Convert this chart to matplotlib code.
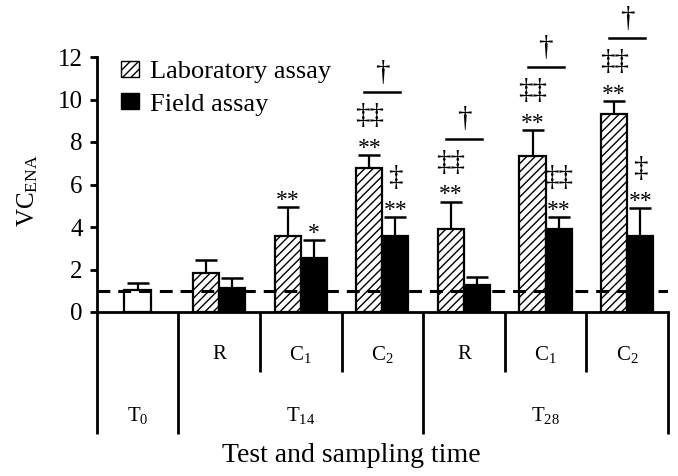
import matplotlib
matplotlib.use("Agg")
import matplotlib.pyplot as plt
from matplotlib.patches import Patch
import numpy as np

plt.rcParams["font.family"] = ["Liberation Serif", "DejaVu Serif"]
plt.rcParams["mathtext.fontset"] = "custom"
plt.rcParams["mathtext.rm"] = "Liberation Serif"
plt.rcParams["mathtext.it"] = "Liberation Serif"
plt.rcParams["hatch.linewidth"] = 1.0

# data
t0_mean = 1.05
t0_sd = 0.3

treatments = ["R", "C$_1$", "C$_2$", "R", "C$_1$", "C$_2$"]
times = ["T$_0$", "T$_{14}$", "T$_{28}$"]

lab_mean = [1.85, 3.6, 6.8, 3.9, 7.35, 9.3]
lab_sd = [0.6, 1.35, 0.6, 1.3, 1.2, 0.65]
field_mean = [1.15, 2.55, 3.6, 1.25, 3.9, 3.6]
field_sd = [0.45, 0.85, 0.85, 0.4, 0.55, 1.3]

lab_star = ["", "**", "**", "**", "**", "**"]
lab_dd = ["", "", "‡‡", "‡‡", "‡‡", "‡‡"]
field_star = ["", "*", "**", "", "**", "**"]
field_dd = ["", "", "‡", "", "‡‡", "‡"]
lab_vs_field = [False, False, True, True, True, True]

fig = plt.figure(figsize=(6.78, 4.76), dpi=100)
ax = fig.add_axes([96.7 / 678, 1 - 312 / 476, (668 - 96.7) / 678, 255 / 476])

bw = 0.32
slots = np.arange(1, 7) + 0.5
x_lab = slots - bw / 2
x_field = slots + bw / 2

ax.bar(0.5, t0_mean, bw, color="white", edgecolor="k", linewidth=1.6, zorder=2)
ax.bar(x_lab, lab_mean, bw, color="white", edgecolor="k", hatch="////",
       linewidth=1.6, zorder=2)
ax.bar(x_field, field_mean, bw, color="k", edgecolor="k", linewidth=1.6, zorder=2)

ekw = dict(fmt="none", ecolor="k", elinewidth=1.6, capsize=8, capthick=1.8, zorder=1)
ax.errorbar([0.5], [t0_mean], yerr=[[0], [t0_sd]], **ekw)
ax.errorbar(x_lab, lab_mean, yerr=[np.zeros(6), lab_sd], **ekw)
ax.errorbar(x_field, field_mean, yerr=[np.zeros(6), field_sd], **ekw)

ax.axhline(1, color="k", lw=2.2, dashes=(4.2, 2.6), zorder=5)

# significance marks, offsets in px above the error bar top
ppu = 255 / 12.0


def mark(x, top, text, off_px, size):
    ax.annotate(text, xy=(x, top), xytext=(0, off_px * 0.72),
                textcoords="offset points", ha="center", va="baseline",
                fontsize=size, annotation_clip=False)


for i in range(6):
    ltop = lab_mean[i] + lab_sd[i]
    ftop = field_mean[i] + field_sd[i]
    if lab_star[i]:
        mark(x_lab[i], ltop, lab_star[i], 1, 17)
    if lab_dd[i]:
        mark(x_lab[i], ltop, lab_dd[i], 32, 21)
    if field_star[i]:
        mark(x_field[i], ftop, field_star[i], 1, 17)
    if field_dd[i]:
        mark(x_field[i], ftop, field_dd[i], 32, 21)
    if lab_vs_field[i]:
        yl = ltop + 63 / ppu
        ax.plot([slots[i] - 0.22, slots[i] + 0.22], [yl, yl], color="k",
                lw=1.8, clip_on=False)
        mark(slots[i], ltop, "†", 75, 21)

# axes styling
ax.set_xlim(0, 7)
ax.set_ylim(0, 12)
ax.set_yticks(range(0, 13, 2))
ax.set_xticks([])
for s in ["top", "right"]:
    ax.spines[s].set_visible(False)
ax.spines["left"].set_linewidth(2)
ax.spines["bottom"].set_linewidth(2)
ax.tick_params(axis="y", direction="out", length=5, width=2, labelsize=18, pad=5)
ax.set_ylabel("VC$_{\\mathrm{ENA}}$", fontsize=18)
ax.yaxis.set_label_coords(-0.10, 0.475)

# table below the axis
short_y = -2.82
long_y = -5.74
for xv in [0, 1, 4, 7]:
    ax.plot([xv, xv], [0, long_y], color="k", lw=2, clip_on=False,
            solid_capstyle="butt")
for xv in [2, 3, 5, 6]:
    ax.plot([xv, xv], [0, short_y], color="k", lw=2, clip_on=False,
            solid_capstyle="butt")
for xs, lab in zip(slots, treatments):
    ax.text(xs, -2.0, lab, ha="center", va="center", fontsize=15)
for xs, lab in zip([0.5, 2.5, 5.5], times):
    ax.text(xs, -4.85, lab, ha="center", va="center", fontsize=15)

fig.text(351 / 678, 1 - 455 / 476, "Test and sampling time",
         ha="center", va="center", fontsize=20)

handles = [Patch(facecolor="white", edgecolor="k", hatch="////"),
           Patch(facecolor="k", edgecolor="k")]
ax.legend(handles, ["Laboratory assay", "Field assay"], loc="upper left",
          bbox_to_anchor=(121 / 678, 1 - 61 / 476), bbox_transform=fig.transFigure,
          frameon=False, fontsize=19, handlelength=0.7, handleheight=0.55,
          handletextpad=0.4, labelspacing=0.38, borderpad=0, borderaxespad=0)

fig.savefig("out.png", dpi=100)
